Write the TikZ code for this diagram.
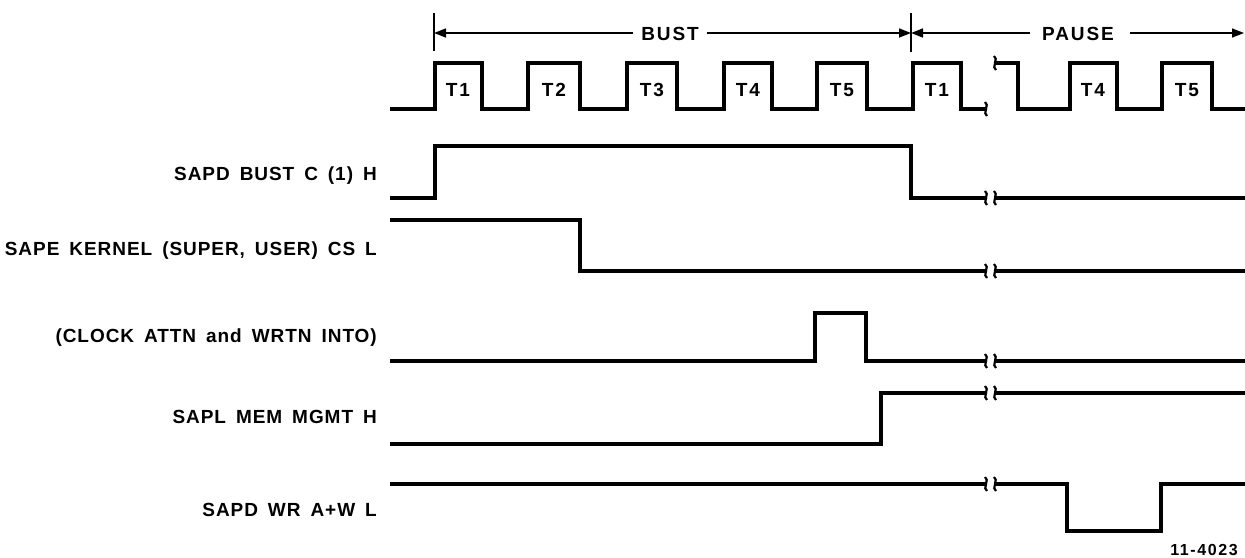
\documentclass[tikz,border=0pt]{standalone}
\usepackage{fontspec}
\setmainfont{Liberation Sans}[LetterSpace=10]
\newfontfamily\lblfont{Liberation Sans}[LetterSpace=5,WordSpace=1.6]
\usetikzlibrary{arrows.meta}
\newcommand\zbreak[2]{\draw[brkline] (#1-1,#2-7) .. controls (#1+4,#2-5) and (#1-4,#2+5) .. (#1+1,#2+7);}
\begin{document}
\begin{tikzpicture}[x=1pt,y=-1pt,
  wave/.style={line width=3.2pt, line join=miter, line cap=butt},
  brkline/.style={line width=2.2pt},
  lbl/.style={anchor=base east, inner sep=0pt, font=\lblfont\fontsize{19}{19}\selectfont\bfseries},
  tlbl/.style={anchor=base, inner sep=0pt, font=\fontsize{19}{19}\selectfont\bfseries},
  dimline/.style={line width=1.6pt, -{Triangle[length=12pt,width=9pt]}},
  tick/.style={line width=2.2pt}]
\useasboundingbox (0,0) rectangle (1245,557);

% dimension ticks
\coordinate (t1) at (434,33);
\coordinate (t2) at (911,33);
\coordinate (t3) at (1244,33);
\draw[tick] (434,13) -- (434,51);
\draw[tick] (911,13) -- (911,52);
\node[tlbl] (bust) at (670,40) {BUST};
\node[tlbl] (pause) at (1078,40) {PAUSE};
\draw[dimline] (bust.west |- t1) ++(-8,0) -- (t1);
\draw[dimline] (bust.east |- t1) ++(8,0) -- (t2);
\draw[dimline] (pause.west |- t2) ++(-12,0) -- (t2);
\draw[dimline] (pause.east |- t3) ++(16,0) -- (t3);

% clock
\draw[wave] (390,109) -- (435,109) -- (435,63) -- (482,63) -- (482,109) -- (528,109) -- (528,63) -- (580,63) -- (580,109) -- (627,109) -- (627,63) -- (677,63) -- (677,109) -- (724,109) -- (724,63) -- (772,63) -- (772,109) -- (817,109) -- (817,63) -- (867,63) -- (867,109) -- (913,109) -- (913,63) -- (961,63) -- (961,109) -- (985,109);
\zbreak{986}{109}
\zbreak{995}{63}
\draw[wave] (996,63) -- (1018,63) -- (1018,109) -- (1070,109) -- (1070,63) -- (1117,63) -- (1117,109) -- (1162,109) -- (1162,63) -- (1212,63) -- (1212,109) -- (1245,109);
\node[tlbl] (ca) at (458,96) {T1};
\node[tlbl] (cb) at (554,96) {T2};
\node[tlbl] (cc) at (652,96) {T3};
\node[tlbl] (cd) at (748,96) {T4};
\node[tlbl] (ce) at (842,96) {T5};
\node[tlbl] (cf) at (937,96) {T1};
\node[tlbl] (cg) at (1093,96) {T4};
\node[tlbl] (ch) at (1187,96) {T5};

% SAPD BUST C (1) H
\node[lbl] (s1) at (377,180) {SAPD BUST C (1) H};
\draw[wave] (390,198) -- (435,198) -- (435,146) -- (911,146) -- (911,198) -- (985,198);
\zbreak{986}{198}\zbreak{995}{198}
\draw[wave] (996,198) -- (1245,198);

% SAPE KERNEL
\node[lbl] (s2) at (377,255) {SAPE KERNEL (SUPER, USER) CS L};
\draw[wave] (390,220) -- (580,220) -- (580,271) -- (985,271);
\zbreak{986}{271}\zbreak{995}{271}
\draw[wave] (996,271) -- (1245,271);

% CLOCK ATTN
\node[lbl] (s3) at (377,342) {(CLOCK ATTN and WRTN INTO)};
\draw[wave] (390,361) -- (815,361) -- (815,313) -- (866,313) -- (866,361) -- (985,361);
\zbreak{986}{361}\zbreak{995}{361}
\draw[wave] (996,361) -- (1245,361);

% SAPL MEM MGMT H
\node[lbl] (s4) at (377,423) {SAPL MEM MGMT H};
\draw[wave] (390,444) -- (881,444) -- (881,393) -- (985,393);
\zbreak{986}{393}\zbreak{995}{393}
\draw[wave] (996,393) -- (1245,393);

% SAPD WR A+W L
\node[lbl] (s5) at (377,516) {SAPD WR A+W L};
\draw[wave] (390,484) -- (985,484);
\zbreak{986}{484}\zbreak{995}{484}
\draw[wave] (996,484) -- (1067,484) -- (1067,531) -- (1161,531) -- (1161,484) -- (1245,484);

\node[anchor=base east, inner sep=0pt, font=\fontsize{16}{16}\selectfont\bfseries] (fig) at (1238,555) {11-4023};
\end{tikzpicture}
\end{document}
